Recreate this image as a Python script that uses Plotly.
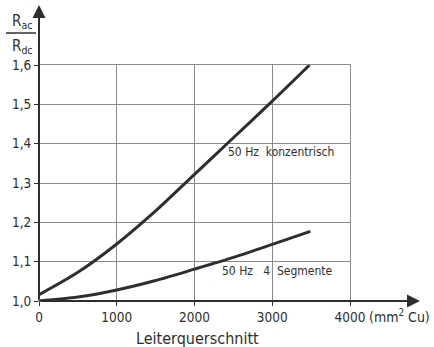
import plotly.graph_objects as go

# data
x_konz = [0, 500, 1000, 1500, 2000, 2500, 3000, 3480]
y_konz = [1.016, 1.073, 1.145, 1.229, 1.322, 1.415, 1.508, 1.600]
x_seg = [0, 500, 1000, 1500, 2000, 2500, 3000, 3490]
y_seg = [1.000, 1.010, 1.028, 1.052, 1.081, 1.111, 1.144, 1.177]
x_ticks = [0, 1000, 2000, 3000, 4000]
x_ticktext = ["0", "1000", "2000", "3000", "4000"]
y_ticks = [1.0, 1.1, 1.2, 1.3, 1.4, 1.5, 1.6]
y_ticktext = ["1,0", "1,1", "1,2", "1,3", "1,4", "1,5", "1,6"]

INK = "#2e2e2e"
GRID = "#8a8a8a"
FONT = "DejaVu Sans Condensed, DejaVu Sans"

W, H = 434, 347
L, R, T, B = 39, 84, 65, 46
pw, ph = W - L - R, H - T - B

fig = go.Figure()
fig.add_trace(go.Scatter(x=x_konz, y=y_konz, mode="lines",
                         line=dict(color=INK, width=3, shape="spline", smoothing=0.8),
                         showlegend=False, hoverinfo="skip"))
fig.add_trace(go.Scatter(x=x_seg, y=y_seg, mode="lines",
                         line=dict(color=INK, width=3, shape="spline", smoothing=0.8),
                         showlegend=False, hoverinfo="skip"))

fig.update_layout(
    width=W, height=H,
    margin=dict(l=L, r=R, t=T, b=B),
    paper_bgcolor="white", plot_bgcolor="white",
    font=dict(family=FONT, color=INK, size=13),
    xaxis=dict(range=[0, 4000], tickvals=x_ticks, ticktext=x_ticktext,
               showgrid=True, gridcolor=GRID, gridwidth=1,
               zeroline=False, showline=True, mirror=True,
               linecolor=GRID, linewidth=1,
               ticks="outside", ticklen=4, tickcolor=INK,
               tickfont=dict(size=13.5, family=FONT, color=INK)),
    yaxis=dict(range=[1.0, 1.6], tickvals=y_ticks, ticktext=y_ticktext,
               showgrid=True, gridcolor=GRID, gridwidth=1,
               zeroline=False, showline=True, mirror=True,
               linecolor=GRID, linewidth=1,
               ticks="outside", ticklen=4, tickcolor=INK,
               tickfont=dict(size=13.5, family=FONT, color=INK)),
)

# axis arrows
fig.add_annotation(x=(420 - L) / pw, y=0, xref="paper", yref="paper",
                   ax=-(420 - L), ay=0, axref="pixel", ayref="pixel",
                   showarrow=True, arrowhead=2, arrowsize=1.3, arrowwidth=2,
                   arrowcolor=INK, text="")
fig.add_annotation(x=0, y=(H - B - 5) / ph, xref="paper", yref="paper",
                   ax=0, ay=(H - B - 5), axref="pixel", ayref="pixel",
                   showarrow=True, arrowhead=2, arrowsize=1.3, arrowwidth=2,
                   arrowcolor=INK, text="")

# unit text after 4000
fig.add_annotation(x=(367 - L) / pw, y=-(316 - (H - B)) / ph, xref="paper", yref="paper",
                   text="(mm<sup>2</sup> Cu)", showarrow=False, xanchor="left", yanchor="middle",
                   font=dict(size=14, family=FONT, color=INK))
# x title
fig.add_annotation(x=(197 - L) / pw, y=-(338 - (H - B)) / ph, xref="paper", yref="paper",
                   text="Leiterquerschnitt", showarrow=False, xanchor="center", yanchor="middle",
                   font=dict(size=16, family=FONT, color=INK))
# y title fraction
fig.add_annotation(x=(22 - L) / pw, y=(H - B - 21) / ph, xref="paper", yref="paper",
                   text="R<sub>ac</sub>", showarrow=False, xanchor="center", yanchor="middle",
                   font=dict(size=15, family=FONT, color=INK))
fig.add_annotation(x=(22 - L) / pw, y=(H - B - 46) / ph, xref="paper", yref="paper",
                   text="R<sub>dc</sub>", showarrow=False, xanchor="center", yanchor="middle",
                   font=dict(size=15, family=FONT, color=INK))
fig.add_shape(type="line", xref="paper", yref="paper",
              x0=(6 - L) / pw, x1=(36 - L) / pw,
              y0=(H - B - 33) / ph, y1=(H - B - 33) / ph,
              line=dict(color=INK, width=1.5))

# curve labels
fig.add_annotation(x=(226 - L) / pw, y=(H - B - 152) / ph, xref="paper", yref="paper",
                   text="50 Hz  konzentrisch", showarrow=False, xanchor="left", yanchor="middle",
                   font=dict(size=12, family=FONT, color=INK))
fig.add_annotation(x=(220 - L) / pw, y=(H - B - 271) / ph, xref="paper", yref="paper",
                   text="50 Hz   4  Segmente", showarrow=False, xanchor="left", yanchor="middle",
                   font=dict(size=12, family=FONT, color=INK))

fig.write_html("out.html")
